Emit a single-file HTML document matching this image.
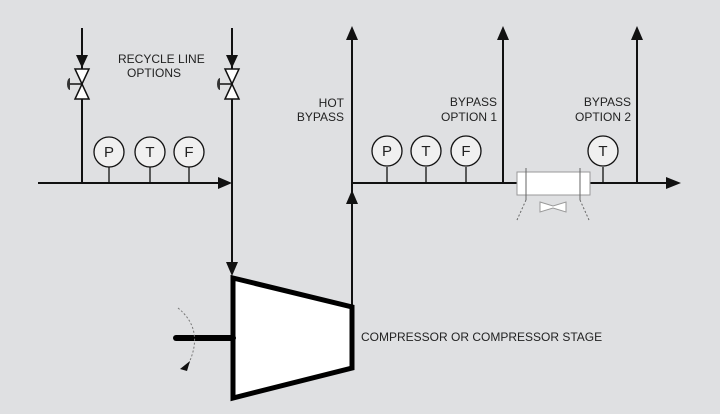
<!DOCTYPE html>
<html><head><style>
html,body{margin:0;padding:0;background:#dfe0e2;}
svg{display:block;}
text{font-family:"Liberation Sans",sans-serif;fill:#222;}
</style></head><body>
<svg width="720" height="414" viewBox="0 0 720 414" xmlns="http://www.w3.org/2000/svg">
<rect width="720" height="414" fill="#dfe0e2"/>
<g stroke="#111" stroke-width="2" fill="none">
<!-- left recycle -->
<line x1="82" y1="28" x2="82" y2="183"/>
<line x1="232" y1="28" x2="232" y2="265"/>
<line x1="38" y1="183" x2="220" y2="183"/>
<line x1="109" y1="183" x2="109" y2="167" stroke-width="1.3"/>
<line x1="150" y1="183" x2="150" y2="167" stroke-width="1.3"/>
<line x1="189" y1="183" x2="189" y2="167" stroke-width="1.3"/>
<!-- right -->
<line x1="352" y1="40" x2="352" y2="306"/>
<line x1="352" y1="183" x2="517" y2="183"/>
<line x1="590" y1="183" x2="668" y2="183"/>
<line x1="503" y1="40" x2="503" y2="183"/>
<line x1="637" y1="40" x2="637" y2="183"/>
<line x1="387" y1="183" x2="387" y2="167" stroke-width="1.3"/>
<line x1="426" y1="183" x2="426" y2="167" stroke-width="1.3"/>
<line x1="466" y1="183" x2="466" y2="167" stroke-width="1.3"/>
<line x1="603" y1="183" x2="603" y2="167" stroke-width="1.3"/>
</g>
<g fill="#111">
<polygon points="76,55 88,55 82,68"/>
<polygon points="226,55 238,55 232,68"/>
<polygon points="218,177 218,189 232,183"/>
<polygon points="226,262 238,262 232,276"/>
<polygon points="346,40 358,40 352,26"/>
<polygon points="346,204 358,204 352,190"/>
<polygon points="497,40 509,40 503,26"/>
<polygon points="631,40 643,40 637,26"/>
<polygon points="666,177 666,189 681,183"/>
</g>
<!-- valves -->
<g stroke="#111" stroke-width="1.5" fill="#fff">
<polygon points="75,69 89,69 82,84"/>
<polygon points="75,99 89,99 82,84"/>
<polygon points="225,69 239,69 232,84"/>
<polygon points="225,99 239,99 232,84"/>
<line x1="70" y1="84" x2="82" y2="84"/>
<line x1="220" y1="84" x2="232" y2="84"/>
</g>
<path d="M70,78 a3,6 0 0 0 0,12 z" fill="#333"/>
<path d="M220,78 a3,6 0 0 0 0,12 z" fill="#333"/>
<!-- instruments -->
<g stroke="#111" stroke-width="1.3" fill="#f0f0f0">
<circle cx="109" cy="152" r="15"/><circle cx="150" cy="152" r="15"/><circle cx="189" cy="152" r="15"/>
<circle cx="387" cy="151" r="15"/><circle cx="426" cy="151" r="15"/><circle cx="466" cy="151" r="15"/>
<circle cx="603" cy="151" r="15"/>
</g>
<g font-size="15" text-anchor="middle">
<text x="109" y="157">P</text><text x="150" y="157">T</text><text x="189" y="157">F</text>
<text x="387" y="156">P</text><text x="426" y="156">T</text><text x="466" y="156">F</text>
<text x="603" y="156">T</text>
</g>
<!-- exchanger -->
<rect x="517" y="172" width="73" height="23" fill="#fff" stroke="#999" stroke-width="1"/>
<g stroke="#666" stroke-width="1" fill="none">
<line x1="526" y1="168" x2="526" y2="200"/>
<line x1="580" y1="168" x2="580" y2="200"/>
<line x1="526" y1="200" x2="517" y2="220" stroke-dasharray="2,2"/>
<line x1="580" y1="200" x2="589" y2="220" stroke-dasharray="2,2"/>
</g>
<path d="M540,202 L553,206 L566,202 L566,212 L553,208 L540,212 Z" fill="#fff" stroke="#999" stroke-width="1"/>
<!-- compressor -->
<polygon points="233,278 352,307 352,368 233,398" fill="#fff" stroke="#000" stroke-width="5" stroke-linejoin="miter"/>
<line x1="176" y1="338" x2="233" y2="338" stroke="#000" stroke-width="6" stroke-linecap="round"/>
<path d="M178,308 Q205,330 188,365" fill="none" stroke="#777" stroke-width="1" stroke-dasharray="2,2"/>
<polygon points="180,369 190,361 187,371" fill="#111"/>
<g font-size="12">
<text x="118" y="63">RECYCLE LINE</text>
<text x="127" y="77">OPTIONS</text>
<text x="344" y="107" text-anchor="end">HOT</text>
<text x="344" y="121" text-anchor="end">BYPASS</text>
<text x="497" y="106" text-anchor="end">BYPASS</text>
<text x="497" y="121" text-anchor="end">OPTION 1</text>
<text x="631" y="106" text-anchor="end">BYPASS</text>
<text x="631" y="121" text-anchor="end">OPTION 2</text>
<text x="361" y="341">COMPRESSOR OR COMPRESSOR STAGE</text>
</g>
</svg>
</body></html>
